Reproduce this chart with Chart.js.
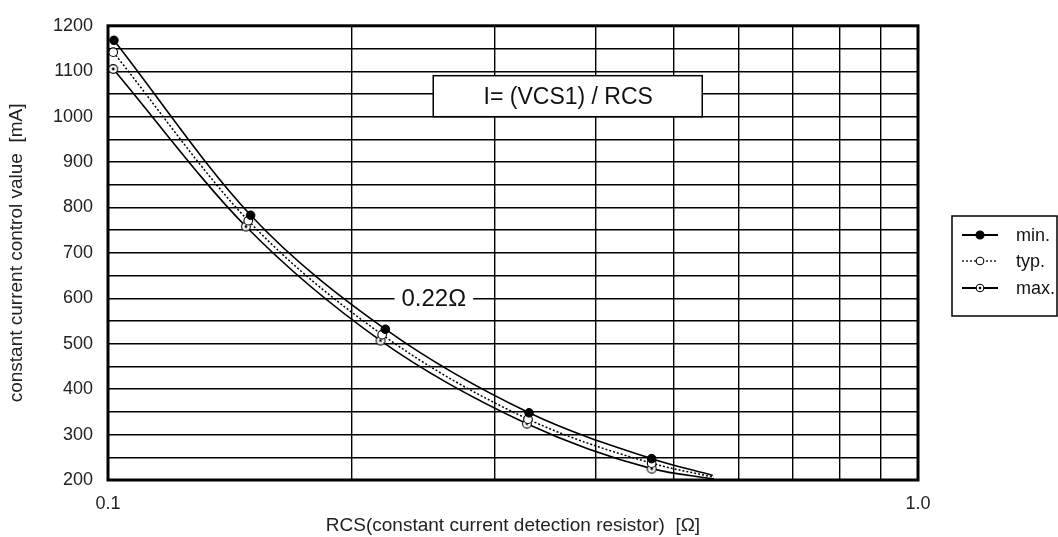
<!DOCTYPE html>
<html>
<head>
<meta charset="utf-8">
<script src="https://cdn.jsdelivr.net/npm/chart.js@4"></script>
<style>
  html, body { margin: 0; padding: 0; background: #fff; }
  #wrap { width: 1058px; height: 537px; }
</style>
</head>
<body>
<div id="wrap"><canvas id="rcsChart" width="1058" height="537"></canvas></div>
<script>
// Daten
const seriesNames = ['min.', 'typ.', 'max.'];

const rcsMin = [0.1017, 0.150, 0.220, 0.331, 0.469, 0.558];
const currentMin = [1168, 783, 532, 348, 247, 210];

const rcsTyp = [0.1015, 0.149, 0.218, 0.330, 0.469, 0.560];
const currentTyp = [1142, 771, 520, 334, 237, 206];

const rcsMax = [0.1015, 0.148, 0.217, 0.329, 0.469, 0.560];
const currentMax = [1105, 758, 507, 324, 225, 202];

// letzter Punkt = Kurvenende ohne Marker
const markerRadius = [4.3, 4.3, 4.3, 4.3, 4.3, 0];

const xGridValues = [0.1, 0.2, 0.3, 0.4, 0.5, 0.6, 0.7, 0.8, 0.9, 1.0];
const xTickLabels = ['0.1', '', '', '', '', '', '', '', '', '1.0'];
const yMin = 200, yMax = 1200, yStep = 50;

const xTitle = 'RCS(constant current detection resistor)  [Ω]';
const yTitle = 'constant current control value  [mA]';
const formulaText = 'I= (VCS1) / RCS';
const curveLabel = '0.22Ω';

const FONT = "'Liberation Sans', Arial, Helvetica, sans-serif";

function toPoints(xs, ys) {
  return xs.map((v, i) => ({ x: v, y: ys[i] }));
}

// Marker "max." : Kreis mit Punkt
function makeDotCircle() {
  const c = document.createElement('canvas');
  c.width = 12; c.height = 12;
  const g = c.getContext('2d');
  g.beginPath();
  g.arc(6, 6, 4.4, 0, Math.PI * 2);
  g.fillStyle = '#fff';
  g.fill();
  g.lineWidth = 1.1;
  g.strokeStyle = '#000';
  g.stroke();
  g.beginPath();
  g.arc(6, 6, 1.4, 0, Math.PI * 2);
  g.fillStyle = '#000';
  g.fill();
  return c;
}
const dotCircle = makeDotCircle();

function drawMarker(ctx, kind, x, y) {
  ctx.save();
  ctx.setLineDash([]);
  ctx.lineWidth = 1.1;
  ctx.strokeStyle = '#000';
  ctx.beginPath();
  ctx.arc(x, y, kind === 0 ? 4 : 3.8, 0, Math.PI * 2);
  ctx.fillStyle = kind === 0 ? '#000' : '#fff';
  ctx.fill();
  ctx.stroke();
  if (kind === 2) {
    ctx.beginPath();
    ctx.arc(x, y, 1.3, 0, Math.PI * 2);
    ctx.fillStyle = '#000';
    ctx.fill();
  }
  ctx.restore();
}

// Rahmen um die Zeichenfläche
const framePlugin = {
  id: 'frame',
  beforeDatasetsDraw(chart) {
    const { ctx, chartArea: a } = chart;
    ctx.save();
    ctx.lineWidth = 3;
    ctx.strokeStyle = '#000';
    ctx.strokeRect(a.left, a.top, a.right - a.left, a.bottom - a.top);
    ctx.restore();
  }
};

// Formel-Kasten und Kurvenbeschriftung
const notesPlugin = {
  id: 'notes',
  afterDatasetsDraw(chart) {
    const { ctx } = chart;
    const x = chart.scales.x, y = chart.scales.y;
    ctx.save();

    const fx = x.getPixelForValue(0.37);
    const fy = y.getPixelForValue(1045);
    ctx.fillStyle = '#fff';
    ctx.fillRect(fx - 135, fy - 20.5, 269, 41);
    ctx.lineWidth = 1.5;
    ctx.strokeStyle = '#000';
    ctx.strokeRect(fx - 135, fy - 20.5, 269, 41);
    ctx.fillStyle = '#111';
    ctx.font = '23px ' + FONT;
    ctx.textAlign = 'center';
    ctx.textBaseline = 'middle';
    ctx.fillText(formulaText, fx, fy + 1);

    const lx = x.getPixelForValue(0.2525);
    const ly = y.getPixelForValue(600);
    ctx.font = '24px ' + FONT;
    const w = ctx.measureText(curveLabel).width;
    ctx.fillStyle = '#fff';
    ctx.fillRect(lx - w / 2 - 7, ly - 10, w + 14, 20);
    ctx.fillStyle = '#111';
    ctx.fillText(curveLabel, lx, ly + 1);
    ctx.restore();
  }
};

// Legende rechts mit Linie + Marker
const legendPlugin = {
  id: 'lineLegend',
  afterDraw(chart) {
    const { ctx } = chart;
    const bx = 952, by = 216, bw = 105, bh = 100;
    ctx.save();
    ctx.lineWidth = 1.5;
    ctx.strokeStyle = '#000';
    ctx.strokeRect(bx, by, bw, bh);
    const rows = [235, 261, 288];
    chart.data.datasets.forEach((ds, i) => {
      const ry = rows[i];
      ctx.beginPath();
      ctx.lineWidth = ds.borderDash ? 1.3 : 2;
      ctx.setLineDash(ds.borderDash || []);
      ctx.moveTo(962, ry);
      ctx.lineTo(998, ry);
      ctx.stroke();
      drawMarker(ctx, i, 980, ry);
      ctx.setLineDash([]);
      ctx.fillStyle = '#111';
      ctx.font = '18px ' + FONT;
      ctx.textAlign = 'left';
      ctx.textBaseline = 'middle';
      ctx.fillText(seriesNames[i], 1016, ry + 1);
    });
    ctx.restore();
  }
};

const ctx = document.getElementById('rcsChart').getContext('2d');

const chart = new Chart(ctx, {
  type: 'line',
  data: {
    datasets: [
      {
        label: seriesNames[0],
        data: toPoints(rcsMin, currentMin),
        borderColor: '#000',
        borderWidth: 1.6,
        pointStyle: 'circle',
        pointRadius: markerRadius,
        pointBackgroundColor: '#000',
        pointBorderColor: '#000',
        pointBorderWidth: 1,
        cubicInterpolationMode: 'monotone',
        fill: false
      },
      {
        label: seriesNames[1],
        data: toPoints(rcsTyp, currentTyp),
        borderColor: '#000',
        borderWidth: 1.5,
        borderDash: [2, 2],
        pointStyle: 'circle',
        pointRadius: markerRadius,
        pointBackgroundColor: '#fff',
        pointBorderColor: '#000',
        pointBorderWidth: 1.1,
        cubicInterpolationMode: 'monotone',
        fill: false
      },
      {
        label: seriesNames[2],
        data: toPoints(rcsMax, currentMax),
        borderColor: '#000',
        borderWidth: 1.6,
        pointStyle: dotCircle,
        pointRadius: markerRadius,
        cubicInterpolationMode: 'monotone',
        fill: false
      }
    ]
  },
  options: {
    responsive: false,
    devicePixelRatio: 1,
    animation: false,
    layout: { padding: { left: 0, right: 140, top: 17, bottom: 0 } },
    plugins: {
      legend: { display: false },
      tooltip: { enabled: false }
    },
    scales: {
      x: {
        type: 'logarithmic',
        min: 0.1,
        max: 1.0,
        afterBuildTicks: scale => {
          scale.ticks = xGridValues.map(v => ({ value: v }));
        },
        afterFit: scale => { scale.height = 57; },
        border: { display: false },
        grid: { color: '#000', lineWidth: 1.4, drawTicks: false, tickLength: 0 },
        ticks: {
          autoSkip: false,
          maxRotation: 0,
          padding: 13,
          color: '#222',
          font: { family: FONT, size: 18 },
          callback: (value, index) => xTickLabels[index]
        },
        title: {
          display: true,
          text: xTitle,
          color: '#222',
          font: { family: FONT, size: 19 },
          padding: { top: 3, bottom: 0 }
        }
      },
      y: {
        type: 'linear',
        min: yMin,
        max: yMax,
        afterFit: scale => { scale.width = 108; },
        border: { display: false },
        grid: { color: '#000', lineWidth: 1.4, drawTicks: false, tickLength: 0 },
        ticks: {
          stepSize: yStep,
          autoSkip: false,
          padding: 15,
          color: '#222',
          font: { family: FONT, size: 18 },
          callback: value => (value % 100 === 0 ? value : '')
        },
        title: {
          display: true,
          text: yTitle,
          color: '#222',
          font: { family: FONT, size: 19 },
          padding: { top: 5, bottom: 0 }
        }
      }
    }
  },
  plugins: [framePlugin, notesPlugin, legendPlugin]
});
</script>
</body>
</html>
